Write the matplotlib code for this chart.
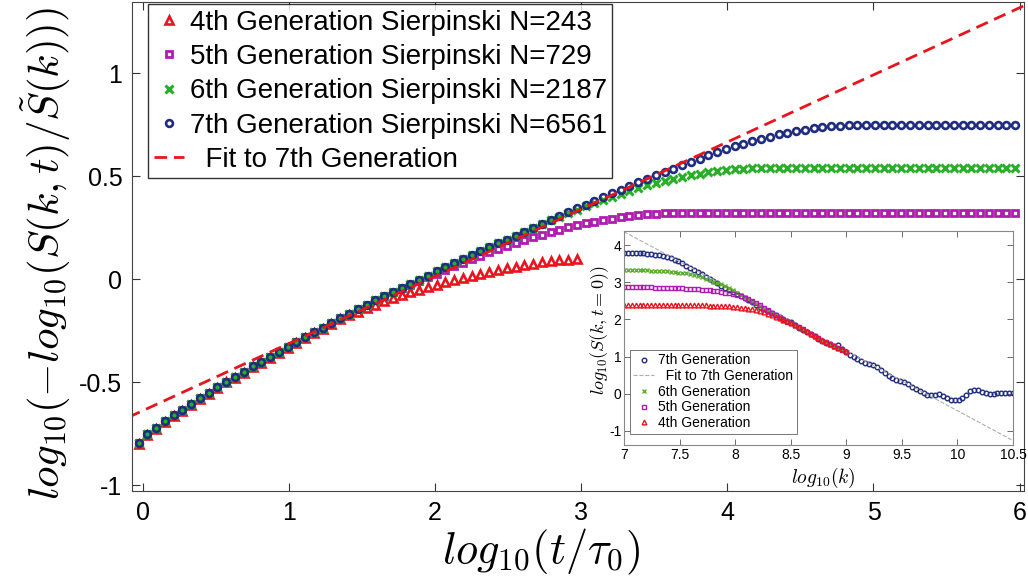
import numpy as np
import matplotlib
matplotlib.use('Agg')
import matplotlib.pyplot as plt
from matplotlib.ticker import FormatStrFormatter

plt.rcParams['font.family'] = 'Liberation Sans'
plt.rcParams['mathtext.fontset'] = 'cm'
plt.rcParams['axes.unicode_minus'] = False

# main panel: log10(t/tau0) grid, one sample every 0.06
logt = np.linspace(-0.03, 5.97, 101)

gen7 = [-0.795, -0.754, -0.722, -0.688, -0.660, -0.636, -0.605, -0.578, -0.552, -0.524,
        -0.498, -0.476, -0.451, -0.424, -0.403, -0.377, -0.356, -0.332, -0.307, -0.283,
        -0.259, -0.236, -0.213, -0.190, -0.168, -0.146, -0.125, -0.104, -0.083, -0.063,
        -0.043, -0.023, -0.003, 0.017, 0.037, 0.057, 0.077, 0.097, 0.116, 0.135,
        0.154, 0.173, 0.192, 0.211, 0.230, 0.249, 0.268, 0.287, 0.306, 0.325,
        0.344, 0.362, 0.380, 0.398, 0.416, 0.434, 0.452, 0.469, 0.486, 0.503,
        0.520, 0.536, 0.552, 0.568, 0.585, 0.601, 0.616, 0.630, 0.644, 0.657,
        0.669, 0.681, 0.692, 0.702, 0.711, 0.719, 0.726, 0.732, 0.737, 0.741,
        0.745, 0.748, 0.750, 0.750, 0.750, 0.750, 0.750, 0.750, 0.750, 0.750,
        0.750, 0.750, 0.750, 0.750, 0.750, 0.750, 0.750, 0.750, 0.750, 0.750,
        0.750]

gen6 = [-0.795, -0.754, -0.722, -0.688, -0.660, -0.636, -0.605, -0.578, -0.552, -0.524,
        -0.498, -0.476, -0.451, -0.424, -0.403, -0.377, -0.356, -0.332, -0.307, -0.283,
        -0.259, -0.236, -0.213, -0.190, -0.168, -0.146, -0.125, -0.104, -0.083, -0.063,
        -0.043, -0.023, -0.003, 0.017, 0.037, 0.057, 0.077, 0.097, 0.116, 0.135,
        0.154, 0.173, 0.192, 0.211, 0.230, 0.249, 0.268, 0.285, 0.303, 0.320,
        0.337, 0.353, 0.368, 0.383, 0.397, 0.413, 0.428, 0.442, 0.455, 0.467,
        0.478, 0.488, 0.497, 0.505, 0.512, 0.518, 0.524, 0.529, 0.533, 0.536,
        0.538, 0.540, 0.540, 0.540, 0.540, 0.540, 0.540, 0.540, 0.540, 0.540,
        0.540, 0.540, 0.540, 0.540, 0.540, 0.540, 0.540, 0.540, 0.540, 0.540,
        0.540, 0.540, 0.540, 0.540, 0.540, 0.540, 0.540, 0.540, 0.540, 0.540,
        0.540]

gen5 = [-0.795, -0.754, -0.722, -0.688, -0.660, -0.636, -0.605, -0.578, -0.552, -0.524,
        -0.498, -0.476, -0.451, -0.424, -0.403, -0.377, -0.356, -0.332, -0.307, -0.283,
        -0.259, -0.236, -0.213, -0.190, -0.168, -0.146, -0.125, -0.104, -0.083, -0.063,
        -0.043, -0.027, -0.009, 0.009, 0.027, 0.045, 0.063, 0.080, 0.097, 0.113,
        0.129, 0.145, 0.160, 0.175, 0.189, 0.203, 0.216, 0.228, 0.240, 0.251,
        0.261, 0.270, 0.279, 0.287, 0.294, 0.300, 0.305, 0.310, 0.314, 0.317,
        0.319, 0.320, 0.320, 0.320, 0.320, 0.320, 0.320, 0.320, 0.320, 0.320,
        0.320, 0.320, 0.320, 0.320, 0.320, 0.320, 0.320, 0.320, 0.320, 0.320,
        0.320, 0.320, 0.320, 0.320, 0.320, 0.320, 0.320, 0.320, 0.320, 0.320,
        0.320, 0.320, 0.320, 0.320, 0.320, 0.320, 0.320, 0.320, 0.320, 0.320,
        0.320]

# 4th generation only runs up to log10(t) ~ 3
gen4 = [-0.800, -0.758, -0.726, -0.692, -0.664, -0.640, -0.609, -0.582, -0.556, -0.528,
        -0.502, -0.480, -0.455, -0.428, -0.407, -0.381, -0.360, -0.336, -0.311, -0.287,
        -0.263, -0.240, -0.216, -0.195, -0.176, -0.158, -0.141, -0.124, -0.108, -0.093,
        -0.079, -0.065, -0.052, -0.039, -0.027, -0.015, -0.004, 0.007, 0.017, 0.027,
        0.036, 0.045, 0.053, 0.061, 0.068, 0.075, 0.081, 0.086, 0.091, 0.095,
        0.098]

fit_x = [-0.1, 6.1]
fit_y = [-0.671, 1.350]

# inset: log10(k) grid
logk = np.linspace(7, 10.5, 101)

s7 = [3.80, 3.80, 3.80, 3.79, 3.79, 3.78, 3.77, 3.76, 3.74, 3.72,
      3.70, 3.67, 3.64, 3.60, 3.56, 3.51, 3.45, 3.39, 3.33, 3.27,
      3.21, 3.15, 3.09, 3.03, 2.97, 2.91, 2.85, 2.80, 2.74, 2.69,
      2.63, 2.58, 2.52, 2.46, 2.40, 2.34, 2.28, 2.22, 2.17, 2.12,
      2.07, 2.02, 1.97, 1.92, 1.85, 1.78, 1.72, 1.67, 1.62, 1.55,
      1.48, 1.42, 1.37, 1.33, 1.29, 1.31, 1.20, 1.12, 1.05, 0.99,
      0.93, 0.87, 0.83, 0.80, 0.77, 0.72, 0.64, 0.56, 0.49, 0.43,
      0.38, 0.34, 0.32, 0.27, 0.19, 0.12, 0.06, 0.01, -0.03, -0.04,
      -0.04, -0.02, -0.06, -0.12, -0.16, -0.18, -0.17, -0.12, -0.03, 0.06,
      0.10, 0.09, 0.05, 0.02, 0.00, 0.00, 0.01, 0.02, 0.02, 0.01,
      0.01]

s6 = [3.33, 3.33, 3.33, 3.33, 3.32, 3.32, 3.32, 3.31, 3.31, 3.30,
      3.30, 3.29, 3.28, 3.27, 3.26, 3.25, 3.24, 3.22, 3.20, 3.17,
      3.14, 3.10, 3.06, 3.02, 2.98, 2.94, 2.89, 2.84, 2.78, 2.72,
      2.66, 2.60, 2.54, 2.47, 2.41, 2.35, 2.29, 2.23, 2.17, 2.12,
      2.07, 2.02, 1.96, 1.91, 1.85, 1.79, 1.73, 1.67, 1.61, 1.55,
      1.49, 1.43, 1.37, 1.32, 1.27, 1.22, 1.17, 1.12]

s5 = [2.86, 2.86, 2.86, 2.86, 2.86, 2.86, 2.86, 2.86, 2.85, 2.85,
      2.85, 2.85, 2.85, 2.84, 2.84, 2.84, 2.83, 2.83, 2.82, 2.81,
      2.80, 2.79, 2.78, 2.77, 2.76, 2.74, 2.72, 2.70, 2.68, 2.65,
      2.62, 2.58, 2.54, 2.49, 2.44, 2.38, 2.32, 2.25, 2.18, 2.11,
      2.05, 1.99, 1.94, 1.89, 1.84, 1.79, 1.73, 1.67, 1.61, 1.55,
      1.49, 1.43, 1.38, 1.33, 1.28, 1.23, 1.18, 1.13]

s4 = [2.39, 2.39, 2.39, 2.39, 2.39, 2.39, 2.39, 2.39, 2.39, 2.39,
      2.39, 2.39, 2.39, 2.39, 2.39, 2.39, 2.38, 2.38, 2.38, 2.38,
      2.38, 2.38, 2.37, 2.37, 2.36, 2.36, 2.35, 2.35, 2.34, 2.33,
      2.32, 2.31, 2.29, 2.27, 2.25, 2.22, 2.19, 2.15, 2.11, 2.07,
      2.03, 1.99, 1.95, 1.90, 1.85, 1.80, 1.74, 1.68, 1.62, 1.56,
      1.50, 1.44, 1.39, 1.34, 1.29, 1.24, 1.19, 1.14]

fitk_x = [7.0, 10.5]
fitk_y = [4.36, -1.26]

red = '#e8141e'
mag = '#b01cb0'
grn = '#26b026'
navy = '#202c80'

fig = plt.figure(figsize=(10.28, 5.77), dpi=100)
ax = fig.add_axes([0.1284, 0.149, 0.8677, 0.8475])

ax.plot(logt[:len(gen4)], gen4, '^', ms=6.0, mfc='none', mec=red, mew=1.9,
        label='4th Generation Sierpinski N=243')
ax.plot(logt, gen5, 's', ms=4.8, mfc='none', mec=mag, mew=2.0,
        label='5th Generation Sierpinski N=729')
ax.plot(logt, gen6, 'x', ms=5.2, mec=grn, mew=2.2,
        label='6th Generation Sierpinski N=2187')
ax.plot(logt, gen7, 'o', ms=4.9, mfc='none', mec=navy, mew=1.9,
        label='7th Generation Sierpinski N=6561')
ax.plot(fit_x, fit_y, '--', color=red, lw=2.0, dashes=(4.5, 2.5),
        label='  Fit to 7th Generation')

ax.set_xlim(-0.075, 6.03)
ax.set_ylim(-1.029, 1.345)
ax.set_xticks([0, 1, 2, 3, 4, 5, 6])
ax.set_yticks([-1, -0.5, 0, 0.5, 1])
ax.yaxis.set_major_formatter(FormatStrFormatter('%g'))
ax.tick_params(direction='in', top=True, right=True, labelsize=18, length=6,
               width=0.8, pad=7, color='#333333')
for s in ax.spines.values():
    s.set_color('#444444')

leg = ax.legend(loc='upper left', bbox_to_anchor=(0.144, 0.993),
                bbox_transform=fig.transFigure, fontsize=20, frameon=True,
                fancybox=False, edgecolor='black', handlelength=1.1,
                handletextpad=0.2, borderpad=0.2, labelspacing=0.3,
                borderaxespad=0, markerscale=1.0)
leg.get_frame().set_linewidth(1.0)

fig.text(0.526, 0.043, r'$log_{10}(t/\tau_0)$', fontsize=32,
         ha='center', va='center')
fig.text(0.0447, 0.56, r'$log_{10}(-log_{10}(S(k,t)/\tilde{S}(k)))$',
         fontsize=31, rotation=90, ha='center', va='center')

# inset
ins = fig.add_axes([0.607, 0.2288, 0.3784, 0.3709])
ins.plot(logk, s7, 'o', ms=3.3, mfc='none', mec=navy, mew=1.0, label='7th Generation')
ins.plot(fitk_x, fitk_y, '--', color='#b8aaaa', lw=0.8, label='  Fit to 7th Generation')
ins.plot(logk[:len(s6)], s6, 'x', ms=3.2, mec='#5cb02c', mew=1.0, label='6th Generation')
ins.plot(logk[:len(s5)], s5, 's', ms=3.0, mfc='none', mec=mag, mew=1.0, label='5th Generation')
ins.plot(logk[:len(s4)], s4, '^', ms=3.4, mfc='none', mec=red, mew=1.0, label='4th Generation')

ins.set_xlim(7, 10.5)
ins.set_ylim(-1.38, 4.38)
ins.set_xticks([7, 7.5, 8, 8.5, 9, 9.5, 10, 10.5])
ins.set_yticks([-1, 0, 1, 2, 3, 4])
ins.xaxis.set_major_formatter(FormatStrFormatter('%g'))
ins.yaxis.set_major_formatter(FormatStrFormatter('%g'))
ins.tick_params(direction='in', top=True, right=True, labelsize=10, length=4,
                width=0.6, pad=2, color='#555555')
for s in ins.spines.values():
    s.set_color('#888888')
    s.set_linewidth(0.8)

lg2 = ins.legend(loc='upper left', bbox_to_anchor=(0.6128, 0.3934),
                 bbox_transform=fig.transFigure, fontsize=10, frameon=True,
                 fancybox=False, edgecolor='#555555', handlelength=1.5,
                 handletextpad=0.3, borderpad=0.25, labelspacing=0.12,
                 borderaxespad=0)
lg2.get_frame().set_linewidth(0.7)

fig.text(0.8006, 0.172, r'$log_{10}(k)$', fontsize=14, ha='center', va='center')
fig.text(0.5837, 0.428, r'$log_{10}(S(k,t=0))$', fontsize=13, rotation=90,
         ha='center', va='center')

fig.savefig('out.png', dpi=100)
